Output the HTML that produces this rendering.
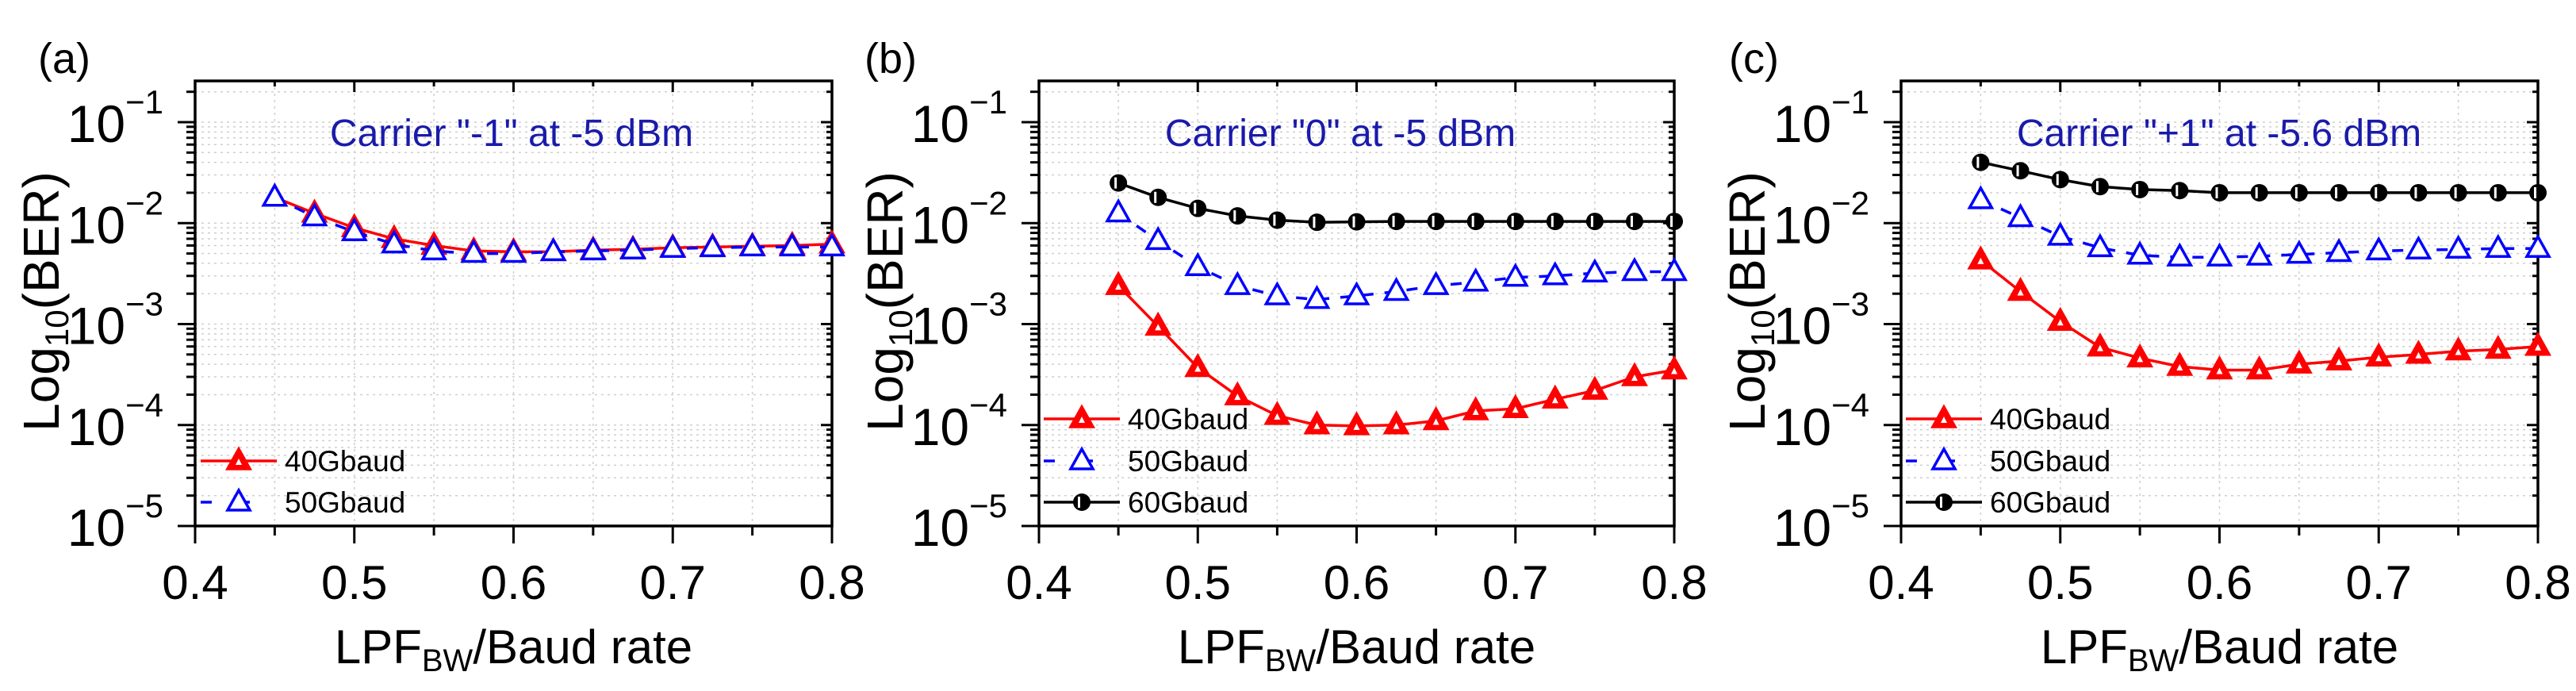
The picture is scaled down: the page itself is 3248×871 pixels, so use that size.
<!DOCTYPE html>
<html><head><meta charset="utf-8"><style>
html,body{margin:0;padding:0;background:#fff;}
svg{display:block;font-family:"Liberation Sans",sans-serif;}
</style></head><body>
<svg id="fig" width="3248" height="871" viewBox="0 0 3248 871" xmlns="http://www.w3.org/2000/svg"></svg>
<script>
const xs = [0.45,0.475,0.5,0.525,0.55,0.575,0.6,0.625,0.65,0.675,0.7,0.725,0.75,0.775,0.8];
const xTicks = [0.4,0.5,0.6,0.7,0.8];
const xTickLabels = ["0.4","0.5","0.6","0.7","0.8"];
const yTicks = [-1,-2,-3,-4,-5];
const legendLabels = ["40Gbaud","50Gbaud","60Gbaud"];
const a40 = [0.018,0.0125,0.009,0.007,0.006,0.0053,0.0052,0.0052,0.0054,0.0055,0.0057,0.0058,0.0059,0.006,0.0062];
const a50 = [0.018,0.0115,0.0082,0.0062,0.0053,0.005,0.005,0.0052,0.0053,0.0054,0.0056,0.0057,0.0058,0.0058,0.0058];
const b40 = [0.0024,0.00095,0.00037,0.000194,0.000124,0.0001,0.000098,0.0001,0.00011,0.000138,0.000145,0.00018,0.00022,0.0003,0.00035];
const b50 = [0.0126,0.0067,0.0037,0.0024,0.0019,0.00175,0.0019,0.0021,0.0024,0.0026,0.0029,0.003,0.0032,0.0033,0.0033];
const b60 = [0.025,0.018,0.014,0.0118,0.0107,0.0102,0.0103,0.0104,0.0104,0.0104,0.0104,0.0104,0.0104,0.0104,0.0104];
const c40 = [0.0043,0.0021,0.00106,0.00059,0.00046,0.00038,0.00035,0.00035,0.0004,0.00043,0.00047,0.0005,0.00054,0.00056,0.0006];
const c50 = [0.017,0.0113,0.0074,0.0057,0.0048,0.0046,0.0046,0.0047,0.0049,0.0051,0.0053,0.0054,0.0055,0.0056,0.0056];
const c60 = [0.04,0.033,0.027,0.023,0.0215,0.021,0.02,0.02,0.02,0.02,0.02,0.02,0.02,0.02,0.02];

const NS="http://www.w3.org/2000/svg";
const svg=document.getElementById('fig');
function mk(tag,attrs,parent){const e=document.createElementNS(NS,tag);for(const k in attrs)e.setAttribute(k,attrs[k]);(parent||svg).appendChild(e);return e;}

const panels=[
 {id:'a',left:246,right:1049,lab:'(a)',labX:48,title:'Carrier "-1" at -5 dBm',titleX:645,series:[a40,a50],legX:253},
 {id:'b',left:1310,right:2111,lab:'(b)',labX:1090,title:'Carrier "0" at -5 dBm',titleX:1690,series:[b40,b50,b60],legX:1316},
 {id:'c',left:2397,right:3200,lab:'(c)',labX:2180,title:'Carrier "+1" at -5.6 dBm',titleX:2798,series:[c40,c50,c60],legX:2403}
];
const TOP=102,BOT=663,Y1=154,DEC=127.25;
const styles=[{color:'#ff0000',dash:'',marker:'tri-red'},{color:'#0000ff',dash:'14 14',marker:'tri-blue'},{color:'#000000',dash:'',marker:'circle'}];

function drawMarker(g,type,x,y){
  if(type==='circle'){
    const m=mk('circle',{cx:x,cy:y,r:11,fill:'#000'},g);
    
    mk('rect',{x:x-5,y:y-7,width:3,height:14,fill:'#fff'},g);
  } else {
    const c=type==='tri-red'?'#ff0000':'#0000ff';
    const fill=type==='tri-red'?'#ff0000':'#fff';
    const m=mk('path',{d:`M${x} ${y-15}L${x+14} ${y+10}L${x-14} ${y+10}Z`,fill:fill,stroke:c,'stroke-width':3.5},g);
    
    if(type==='tri-red') mk('path',{d:`M${x} ${y-3}L${x+4} ${y+5}L${x-4} ${y+5}Z`,fill:'#fff'},g);
  }
}

panels.forEach(p=>{
  const g=mk('g',{});
  
  const X=v=>p.left+(v-0.4)/0.4*(p.right-p.left);
  const Y=v=>Y1+(-1-Math.log10(v))*DEC;
  // grid
  const grid=mk('g',{stroke:'#cfcfcf','stroke-width':1.5,'stroke-dasharray':'3 5'},g);
  
  for(let v=0.45;v<0.8;v+=0.05){mk('line',{x1:X(v),x2:X(v),y1:TOP,y2:BOT},grid);}
  for(let d=-5;d<=-1;d++){for(let m=1;m<=9;m++){const val=m*Math.pow(10,d);const y=Y(val);if(y>TOP&&y<BOT)mk('line',{x1:p.left,x2:p.right,y1:y,y2:y},grid);}}
  // frame
  const fr=mk('rect',{x:p.left,y:TOP,width:p.right-p.left,height:BOT-TOP,fill:'none',stroke:'#000','stroke-width':3.5},g);
  
  // y ticks
  const ya=mk('g',{stroke:'#000','stroke-width':3},g);
  
  for(let d=-5;d<=-1;d++){for(let m=1;m<=9;m++){const val=m*Math.pow(10,d);const y=Y(val);if(y<TOP-1||y>BOT+1)continue;const L=m===1?22:11;mk('line',{x1:p.left-L,x2:p.left,y1:y,y2:y},ya);mk('line',{x1:p.right,x2:p.right-(m===1?14:7),y1:y,y2:y},ya);}}
  {const val=Math.pow(10,0);for(let m=1;m<=3;m++){}}
  yTicks.forEach(e=>{const y=Y(Math.pow(10,e));
    const t=mk('text',{x:p.left-40,y:y+25,'text-anchor':'end','font-size':66,fill:'#000'},g);
    
    t.appendChild(document.createTextNode('10'));
    const s=mk('tspan',{dy:-36,'font-size':42},t);s.textContent='\u2212'+(-e);
  });
  // x ticks
  const xa=mk('g',{stroke:'#000','stroke-width':3},g);
  
  for(let v=0.4;v<=0.8001;v+=0.05){const maj=Math.abs(v*10-Math.round(v*10))<1e-6;mk('line',{x1:X(v),x2:X(v),y1:BOT,y2:BOT+(maj?22:12)},xa);mk('line',{x1:X(v),x2:X(v),y1:TOP,y2:TOP+(maj?14:7)},xa);}
  xTicks.forEach((v,i)=>{const t=mk('text',{x:X(v),y:755,'text-anchor':'middle','font-size':60,fill:'#000'},g);t.textContent=xTickLabels[i];
    });
  // titles
  const xt=mk('text',{x:(p.left+p.right)/2,y:836,'text-anchor':'middle','font-size':60,fill:'#000'},g);
  
  xt.appendChild(document.createTextNode('LPF'));const sb=mk('tspan',{dy:10,'font-size':40},xt);sb.textContent='BW';
  const rest=mk('tspan',{dy:-10},xt);rest.textContent='/Baud rate';
  const yt=mk('text',{x:0,y:0,'text-anchor':'middle','font-size':64,fill:'#000',transform:`translate(${p.left-172},380) rotate(-90)`},g);
  
  yt.appendChild(document.createTextNode('Log'));const s2=mk('tspan',{dy:12,'font-size':42},yt);s2.textContent='10';
  const r2=mk('tspan',{dy:-12},yt);r2.textContent='(BER)';
  const pl=mk('text',{x:p.labX,y:92,'font-size':54,fill:'#000'},g);pl.textContent=p.lab;
  
  const an=mk('text',{x:p.titleX,y:184,'text-anchor':'middle','font-size':48,fill:'#1a1aaa'},g);an.textContent=p.title;
  
  // series
  p.series.forEach((data,si)=>{
    const st=styles[si];
    const sg=mk('g',{},g);
    
    const d=data.map((v,i)=>(i?'L':'M')+X(xs[i]).toFixed(1)+' '+Y(v).toFixed(1)).join('');
    mk('path',{d:d,fill:'none',stroke:st.color,'stroke-width':3.5,'stroke-dasharray':st.dash},sg);
    data.forEach((v,i)=>drawMarker(sg,st.marker,X(xs[i]),Y(v)));
  });
  // legend
  const n=p.series.length;
  const rows=n===2?[581,633]:[528,581,633];
  p.series.forEach((_,si)=>{
    const st=styles[si];const y=rows[si];
    const lg=mk('g',{},g);
    
    mk('line',{x1:p.legX,x2:p.legX+96,y1:y,y2:y,stroke:st.color,'stroke-width':3.5,'stroke-dasharray':si===1?'14 34':''},lg);
    drawMarker(lg,st.marker,p.legX+48,y);
    const t=mk('text',{x:p.legX+106,y:y+13,'font-size':37,fill:'#000'},lg);t.textContent=legendLabels[si];
  });
});
</script>
</body></html>
